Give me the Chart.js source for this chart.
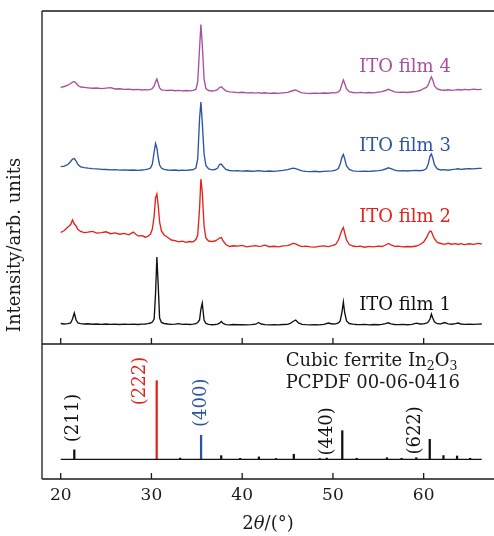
<!DOCTYPE html>
<html>
<head>
<meta charset="utf-8">
<script src="https://cdn.jsdelivr.net/npm/chart.js@4.4.1/dist/chart.umd.min.js"></script>
<style>
html, body { margin: 0; padding: 0; background: #fff; }
#wrap { position: relative; width: 494px; height: 536px; overflow: hidden; }
#wrap canvas { position: absolute; left: 0; top: 0; }
</style>
</head>
<body>
<div id="wrap">
  <canvas id="films" width="494" height="536"></canvas>
  <canvas id="pattern" width="494" height="536"></canvas>
</div>
<script>
// 2theta grid (degrees) shared by the four measured patterns
const twoTheta = [
  20.0, 20.4, 20.8, 21.1, 21.3, 21.5, 21.7, 21.9, 22.2, 22.6,
  23.0, 23.5, 24.0, 24.5, 25.0, 25.5, 26.0, 26.5, 27.0, 27.5,
  28.0, 28.5, 29.0, 29.3, 29.6, 29.9, 30.1, 30.3, 30.45, 30.6,
  30.75, 30.9, 31.1, 31.4, 31.8, 32.2, 32.6, 33.0, 33.4, 33.8,
  34.2, 34.6, 34.9, 35.1, 35.3, 35.45, 35.6, 35.8, 36.0, 36.3,
  36.7, 37.0, 37.3, 37.5, 37.7, 37.9, 38.2, 38.6, 39.0, 39.5,
  40.0, 40.5, 41.0, 41.5, 41.8, 42.1, 42.5, 43.0, 43.5, 44.0,
  44.5, 45.0, 45.3, 45.6, 45.9, 46.2, 46.6, 47.0, 47.5, 48.0,
  48.5, 49.0, 49.5, 49.9, 50.3, 50.6, 50.8, 51.0, 51.15, 51.3,
  51.5, 51.8, 52.2, 52.6, 53.0, 53.5, 54.0, 54.5, 55.0, 55.4,
  55.8, 56.1, 56.4, 56.8, 57.2, 57.7, 58.2, 58.7, 59.2, 59.6,
  60.0, 60.3, 60.5, 60.7, 60.85, 61.0, 61.2, 61.5, 61.9, 62.3,
  62.7, 63.1, 63.5, 63.8, 64.1, 64.5, 65.0, 65.5, 66.0, 66.4
];

// intensities (arb. units, already offset for stacking)
const film1 = [
  20.5, 20, 20.3, 21, 25, 31, 24, 21, 20.3, 20,
  20.2, 19.8, 20, 19.6, 20, 19.7, 19.9, 19.5, 19.8, 19.6,
  19.9, 19.5, 19.8, 20, 20.4, 21, 22, 25, 50, 87,
  58, 26, 21.5, 20.5, 20, 19.7, 19.9, 20.3, 19.6, 19.8,
  19.5, 19.8, 20.3, 21.5, 24, 35, 41, 24, 20.5, 19.6,
  19.3, 19.5, 19.8, 20.8, 22.5, 20.5, 19.4, 19.2, 19.5, 19.3,
  19.4, 19.1, 19.3, 19.8, 21.5, 20, 19.3, 19.1, 19.4, 19.2,
  19.5, 19.6, 20.5, 22.5, 24, 21, 19.6, 19.3, 19.1, 19.3,
  19.2, 19.6, 21, 20, 20.2, 21, 23, 32, 42, 31,
  23, 20.5, 19.8, 19.5, 19.4, 19.6, 19.2, 19.5, 19.3, 19.6,
  20.3, 21.2, 20.2, 19.5, 19.4, 19.6, 19.3, 19.6, 20.8, 20,
  20.2, 20.8, 22, 25, 30, 26, 22, 20.3, 20.2, 21.5,
  20.2, 19.8, 20.3, 21, 20, 19.6, 19.9, 19.6, 19.8, 20
];
const film2 = [
  111.5, 113.5, 117, 119.5, 124, 120, 118, 114.5, 112.5, 111.4,
  111.8, 112.6, 110.9, 111.4, 112.2, 110.3, 111.1, 109.8, 110.6, 109.2,
  111.9, 108.1, 108.4, 106.8, 107.5, 110, 115, 128, 146, 150,
  138, 122, 113, 109, 106.5, 104, 103.4, 102.1, 102.8, 101.6,
  102.5, 102.2, 104.5, 109, 135, 165, 152, 118, 106, 103,
  102.5, 103, 104.5, 106, 106.5, 103, 99.5, 97.5, 98.2, 97.9,
  98.6, 97.2, 97.8, 98.4, 97.6, 97.9, 98.8, 97.3, 97.7, 97.1,
  98.1, 98.4, 99.3, 100.6, 100.1, 98.6, 97.4, 97.9, 97.2, 96.9,
  97.6, 98.1, 97.4, 98.3, 99.5, 104, 109, 114, 116.5, 111,
  104, 99.5, 98, 97.4, 97.9, 96.8, 97.6, 97.2, 97.9, 97.5,
  99, 100.5, 99.2, 97.6, 97.9, 97.1, 97.5, 97.3, 98, 99.5,
  102, 106, 110, 113, 112.5, 109, 105, 101.5, 100.5, 99.6,
  100.7, 99.8, 100.3, 99.5, 100.4, 99.4, 100.2, 99.7, 100.6, 100
];
const film3 = [
  177.3, 177.8, 179.5, 182.5, 185, 185.5, 183, 179.5, 177.2, 176.3,
  175.8, 175.4, 175.2, 174.6, 174.5, 174.2, 174.4, 173.9, 174.1, 173.8,
  174, 173.6, 174, 174.3, 174.8, 176, 180, 192, 200.5, 196,
  186, 179, 176, 174.6, 174, 173.8, 174, 173.5, 173.8, 173.7,
  174, 174.3, 176, 185, 225, 242, 222, 190, 178.5, 175,
  174.2, 174.5, 176, 179.5, 180, 177.5, 174.5, 173.5, 173.2, 173.4,
  172.9, 173.2, 172.8, 173, 173.4, 173, 172.7, 173, 172.6, 173.1,
  173.6, 174.4, 175.2, 175.8, 175.4, 174.3, 173.2, 172.6, 172.4, 172.7,
  172.3, 172.6, 172.9, 173.2, 173.8, 175.5, 180, 187, 189.5, 185,
  178, 174.5, 173.2, 172.8, 172.6, 172.9, 172.7, 173, 173.3, 173.8,
  175, 176.2, 175.3, 173.8, 173.1, 173.4, 173, 173.4, 173.6, 173.3,
  173.8, 175.5, 180, 188, 190, 186, 179, 175, 174, 174.3,
  173.8, 174.4, 174.8, 175.2, 174.6, 175, 175.4, 175.1, 175.6, 175.7
];
const film4 = [
  256.7, 257.5, 258.8, 260.5, 261.8, 262.3, 261, 258.5, 257, 256.6,
  256.2, 255.8, 256, 255.4, 255.8, 256.3, 255, 255.2, 254.6, 254.9,
  254.3, 254.6, 254, 254.3, 254.1, 254.6, 255.5, 258, 262, 265,
  260.5, 256, 254.2, 253.8, 253.5, 253.8, 253.3, 253.6, 253.2, 253.5,
  253.2, 253.7, 254.5, 262, 295, 319.5, 300, 265, 255.5, 253.5,
  253, 253.4, 254.5, 256.5, 257.3, 255.5, 253.2, 252.2, 251.8, 251.4,
  251.7, 251.1, 251.4, 250.9, 251.3, 250.8, 251.2, 250.7, 251, 250.6,
  251.2, 251.6, 252.5, 253.5, 254, 252.6, 251.2, 250.8, 250.5, 250.9,
  250.6, 251, 250.8, 251.3, 251.2, 252, 254, 260, 264, 260.5,
  255, 252.3, 251.5, 251.2, 251.6, 251.1, 251.5, 251.2, 251.8, 252.3,
  253.5, 254.7, 253.6, 252.2, 251.6, 251.9, 251.5, 252, 252.6, 253.5,
  255.5, 256.5, 259, 264, 267, 264, 258, 255, 254, 253.8,
  254.2, 253.7, 254.1, 254.5, 254, 254.6, 254.2, 254.8, 254.4, 254.7
];
const filmNames = ['ITO film 1', 'ITO film 2', 'ITO film 3', 'ITO film 4'];
const filmColors = ['#111111', '#e4221b', '#2b55a3', '#a8509e'];

// reference pattern PCPDF 00-06-0416 (relative intensity, %)
const stickPos = [21.50, 30.58, 33.16, 35.47, 37.69, 39.78, 41.84, 43.72, 45.69, 48.55,
                  49.32, 51.03, 52.62, 55.95, 57.57, 59.19, 60.67, 62.18, 63.68, 65.12];
const stickInt = [12, 100, 1.5, 30.5, 4.6, 1.2, 3, 1, 6.4, 1,
                  1.5, 36.4, 1.3, 2, 1.3, 2, 25.4, 4.7, 4.2, 1.3];
const hklText = ['(211)', '(222)', '(400)', '(440)', '(622)'];
const hklPeak = [21.50, 30.58, 35.47, 51.03, 60.67];

const tickValues = [20, 30, 40, 50, 60];
const X_MIN = 17.94, X_MAX = 67.75;

Chart.defaults.font.family = '"DejaVu Serif", serif';
Chart.defaults.color = '#1a1a1a';

const hklColor = p => p === 30.58 ? filmColors[1] : (p === 35.47 ? filmColors[2] : '#111111');

// frame lines and inward ticks on the bottom edge
function framePlugin(withTop) {
  return {
    id: 'frame',
    afterDraw(chart) {
      const { ctx, chartArea: a } = chart;
      const x = chart.scales.x;
      ctx.save();
      ctx.strokeStyle = '#1a1a1a';
      ctx.lineWidth = 1.3;
      ctx.beginPath();
      if (withTop) { ctx.moveTo(a.left, a.top); ctx.lineTo(a.right, a.top); }
      ctx.moveTo(a.left, a.top); ctx.lineTo(a.left, a.bottom);
      ctx.moveTo(a.left, a.bottom); ctx.lineTo(a.right, a.bottom);
      tickValues.forEach(v => {
        const px = x.getPixelForValue(v);
        ctx.moveTo(px, a.bottom); ctx.lineTo(px, a.bottom - 6);
      });
      ctx.stroke();
      ctx.restore();
    }
  };
}

const filmLabels = {
  id: 'filmLabels',
  afterDraw(chart) {
    const { ctx, scales: { x, y } } = chart;
    const base = [34, 122, 193, 272];
    ctx.save();
    ctx.font = '18px "DejaVu Serif"';
    ctx.textBaseline = 'alphabetic';
    filmNames.forEach((t, i) => {
      ctx.fillStyle = filmColors[i];
      ctx.fillText(t, x.getPixelForValue(52.9), y.getPixelForValue(base[i]));
    });
    ctx.restore();
  }
};

const patternLabels = {
  id: 'patternLabels',
  afterDraw(chart) {
    const { ctx, chartArea: a, scales: { x, y } } = chart;
    ctx.save();
    // hkl indices, rotated
    const lx = [21.38, 28.74, 35.46, 49.42, 59.07];
    const ly = [52.5, 99.6, 72, 35.5, 36.8];
    ctx.font = '18px "DejaVu Serif"';
    ctx.textAlign = 'center';
    ctx.textBaseline = 'middle';
    hklText.forEach((t, i) => {
      ctx.save();
      ctx.translate(x.getPixelForValue(lx[i]), y.getPixelForValue(ly[i]));
      ctx.rotate(-Math.PI / 2);
      ctx.fillStyle = hklColor(hklPeak[i]);
      ctx.fillText(t, 0, 0);
      ctx.restore();
    });
    // card text with subscripts
    ctx.textAlign = 'left';
    ctx.textBaseline = 'alphabetic';
    ctx.fillStyle = '#1a1a1a';
    let px = x.getPixelForValue(44.79);
    const py = y.getPixelForValue(118.7);
    [['Cubic ferrite In', 0], ['2', 1], ['O', 0], ['3', 1]].forEach(([s, sub]) => {
      ctx.font = sub ? '12.5px "DejaVu Serif"' : '18px "DejaVu Serif"';
      ctx.fillText(s, px, py + (sub ? 3.5 : 0));
      px += ctx.measureText(s).width;
    });
    ctx.font = '18px "DejaVu Serif"';
    ctx.fillText('PCPDF 00-06-0416', x.getPixelForValue(44.79), y.getPixelForValue(90.3));
    // x title: 2θ/(°)
    const parts = [['2', ''], ['θ', 'italic '], ['/(°)', '']];
    let w = 0;
    parts.forEach(([s, st]) => { ctx.font = st + '18px "DejaVu Serif"'; w += ctx.measureText(s).width; });
    let tx = (a.left + a.right) / 2 - w / 2;
    parts.forEach(([s, st]) => {
      ctx.font = st + '18px "DejaVu Serif"';
      ctx.fillText(s, tx, 529);
      tx += ctx.measureText(s).width;
    });
    // y title, centred on the whole frame
    ctx.save();
    ctx.translate(15.5, 245);
    ctx.rotate(-Math.PI / 2);
    ctx.textAlign = 'center';
    ctx.textBaseline = 'middle';
    ctx.font = '18px "DejaVu Serif"';
    ctx.fillText('Intensity/arb. units', 0, 0);
    ctx.restore();
    ctx.restore();
  }
};

// upper panel: measured films
new Chart(document.getElementById('films'), {
  type: 'line',
  data: {
    datasets: [film1, film2, film3, film4].map((s, i) => ({
      label: filmNames[i],
      data: twoTheta.map((t, k) => ({ x: t, y: s[k] })),
      borderColor: filmColors[i],
      borderWidth: 1.35,
      pointRadius: 0,
      tension: 0
    }))
  },
  options: {
    responsive: false,
    animation: false,
    devicePixelRatio: 1,
    layout: { padding: { top: 11, left: 42, right: 0, bottom: 192 } },
    plugins: { legend: { display: false }, tooltip: { enabled: false } },
    scales: {
      x: { type: 'linear', display: false, min: X_MIN, max: X_MAX },
      y: { display: false, min: 0, max: 333 }
    }
  },
  plugins: [framePlugin(true), filmLabels]
});

// lower panel: standard card
new Chart(document.getElementById('pattern'), {
  type: 'bar',
  data: {
    datasets: [
      {
        type: 'line',
        data: [{ x: 20, y: 0 }, { x: 66.4, y: 0 }],
        borderColor: '#111111',
        borderWidth: 1.3,
        pointRadius: 0
      },
      {
        type: 'bar',
        data: stickPos.map((p, i) => ({ x: p, y: stickInt[i] })),
        backgroundColor: stickPos.map(hklColor),
        borderWidth: 0,
        barThickness: 1.6
      }
    ]
  },
  options: {
    responsive: false,
    animation: false,
    devicePixelRatio: 1,
    layout: { padding: { top: 344, left: 42, right: 0, bottom: 0 } },
    plugins: { legend: { display: false }, tooltip: { enabled: false } },
    scales: {
      x: {
        type: 'linear', min: X_MIN, max: X_MAX, offset: false,
        grid: { display: false, drawTicks: false, offset: false },
        border: { display: false },
        afterBuildTicks: s => { s.ticks = tickValues.map(v => ({ value: v })); },
        afterFit: s => { s.height = 57; },
        ticks: { font: { size: 17 }, color: '#1a1a1a', padding: 6, maxRotation: 0 }
      },
      y: { display: false, min: -25.1, max: 146.7 }
    }
  },
  plugins: [framePlugin(false), patternLabels]
});
</script>
</body>
</html>
